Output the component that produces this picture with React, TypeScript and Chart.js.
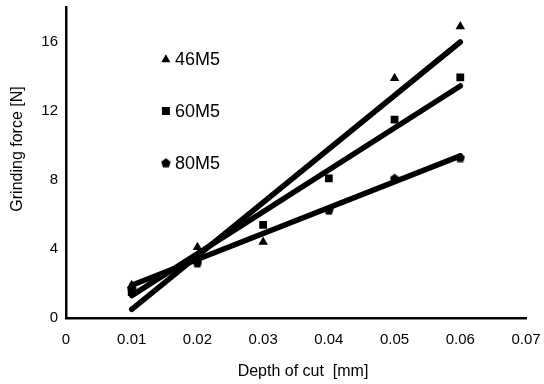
import React, { useEffect, useRef } from "react";
import { Chart, registerables } from "chart.js";

Chart.register(...registerables);

const depths = [0.01, 0.02, 0.03, 0.04, 0.05, 0.06];
const force46M5 = [1.9, 4.1, 4.4, null, 13.9, 16.9];
const force60M5 = [1.5, 3.5, 5.4, 8.1, 11.5, 13.95];
const force80M5 = [1.7, 3.2, null, 6.25, 8.1, 9.3];
const fitX = [0.01, 0.06];
const fit46M5 = [0.5, 16.0];
const fit60M5 = [1.3, 13.45];
const fit80M5 = [1.9, 9.4];
const seriesLabels = ["46M5", "60M5", "80M5"];
const legendY = [15, 12, 9];
const legendX = 0.0152;
const xTicks = [0, 0.01, 0.02, 0.03, 0.04, 0.05, 0.06, 0.07];
const yTicks = [0, 4, 8, 12, 16];
const xTitle = "Depth of cut  [mm]";
const yTitle = "Grinding force [N]";

function makePentagon(size: number): HTMLCanvasElement {
  const c = document.createElement("canvas");
  c.width = size;
  c.height = size;
  const ctx = c.getContext("2d")!;
  const r = size / 2;
  ctx.fillStyle = "#000";
  ctx.beginPath();
  for (let i = 0; i < 5; i++) {
    const a = -Math.PI / 2 + (i * 2 * Math.PI) / 5;
    const px = r + r * Math.cos(a);
    const py = r + 0.5 + r * Math.sin(a);
    if (i === 0) ctx.moveTo(px, py);
    else ctx.lineTo(px, py);
  }
  ctx.closePath();
  ctx.fill();
  return c;
}

export default function App() {
  const ref = useRef<HTMLCanvasElement | null>(null);
  useEffect(() => {
    document.body.style.margin = "0";
    const pent = makePentagon(10);
    const styles: any[] = ["triangle", "rect", pent];
    const pts = (ys: (number | null)[]) => depths.map((x, i) => ({ x, y: ys[i] }));
    const fit = (ys: number[]) => fitX.map((x, i) => ({ x, y: ys[i] }));
    const font = "'Liberation Sans', Arial, sans-serif";

    const legendPlugin = {
      id: "customLegend",
      afterDraw(chart: any) {
        const ctx = chart.ctx;
        const xs = chart.scales.x;
        const ys = chart.scales.y;
        ctx.save();
        ctx.fillStyle = "#000";
        seriesLabels.forEach((lab, i) => {
          const px = xs.getPixelForValue(legendX);
          const py = ys.getPixelForValue(legendY[i]);
          if (i === 0) {
            ctx.beginPath();
            ctx.moveTo(px, py - 5);
            ctx.lineTo(px + 4.5, py + 3);
            ctx.lineTo(px - 4.5, py + 3);
            ctx.closePath();
            ctx.fill();
          } else if (i === 1) {
            ctx.fillRect(px - 4, py - 4, 8, 8);
          } else {
            ctx.drawImage(pent, px - 5, py - 5);
          }
          ctx.font = `18px ${font}`;
          ctx.textBaseline = "middle";
          ctx.textAlign = "left";
          ctx.fillText(lab, px + 9, py + 1);
        });
        ctx.font = `16px ${font}`;
        ctx.textAlign = "center";
        ctx.textBaseline = "middle";
        ctx.fillText(xTitle, 303, 372);
        ctx.translate(18, 149);
        ctx.rotate(-Math.PI / 2);
        ctx.fillText(yTitle, 0, 0);
        ctx.restore();
      },
    };

    const lineDs = (ys: number[], label: string) => ({
      label,
      data: fit(ys),
      showLine: true,
      pointRadius: 0,
      borderColor: "#000",
      borderWidth: 5.5,
      borderCapStyle: "round",
    });
    const ptDs = (ys: (number | null)[], i: number, r: number) => ({
      label: seriesLabels[i],
      data: pts(ys),
      pointStyle: styles[i],
      pointRadius: r,
      backgroundColor: "#000",
      borderColor: "#000",
      borderWidth: 0,
      showLine: false,
    });

    const chart = new Chart(ref.current!, {
      type: "scatter",
      data: {
        datasets: [
          lineDs(fit46M5, "fit46"),
          lineDs(fit60M5, "fit60"),
          lineDs(fit80M5, "fit80"),
          ptDs(force46M5, 0, 5.5),
          ptDs(force60M5, 1, 5.5),
          ptDs(force80M5, 2, 5),
        ] as any,
      },
      options: {
        animation: false,
        responsive: false,
        layout: { padding: { top: 7.5, right: 18, left: 0, bottom: 0 } },
        plugins: { legend: { display: false }, tooltip: { enabled: false } },
        scales: {
          x: {
            type: "linear",
            min: 0,
            max: 0.07,
            afterBuildTicks: (s: any) => { s.ticks = xTicks.map((v) => ({ value: v })); },
            afterFit: (s: any) => { s.height = 66; s.paddingRight = 0; s.paddingLeft = 0; },
            grid: { display: false, drawTicks: true, tickLength: 5, tickColor: "#000", tickWidth: 2 } as any,
            border: { color: "#000", width: 2.5 },
            ticks: { color: "#000", font: { family: font, size: 15 }, padding: 8, callback: (v: any) => String(v) },
          },
          y: {
            type: "linear",
            min: 0,
            max: 18,
            afterBuildTicks: (s: any) => { s.ticks = yTicks.map((v) => ({ value: v })); },
            afterFit: (s: any) => { s.width = 66; s.paddingTop = 0; s.paddingBottom = 0; },
            grid: { display: false, drawTicks: true, tickLength: 5, tickColor: "#000", tickWidth: 2 } as any,
            border: { color: "#000", width: 2.5 },
            ticks: { color: "#000", font: { family: font, size: 15 }, padding: 3 },
          },
        },
      },
      plugins: [legendPlugin],
    });
    return () => chart.destroy();
  }, []);
  return <canvas ref={ref} width={544} height={384} style={{ display: "block" }} />;
}
